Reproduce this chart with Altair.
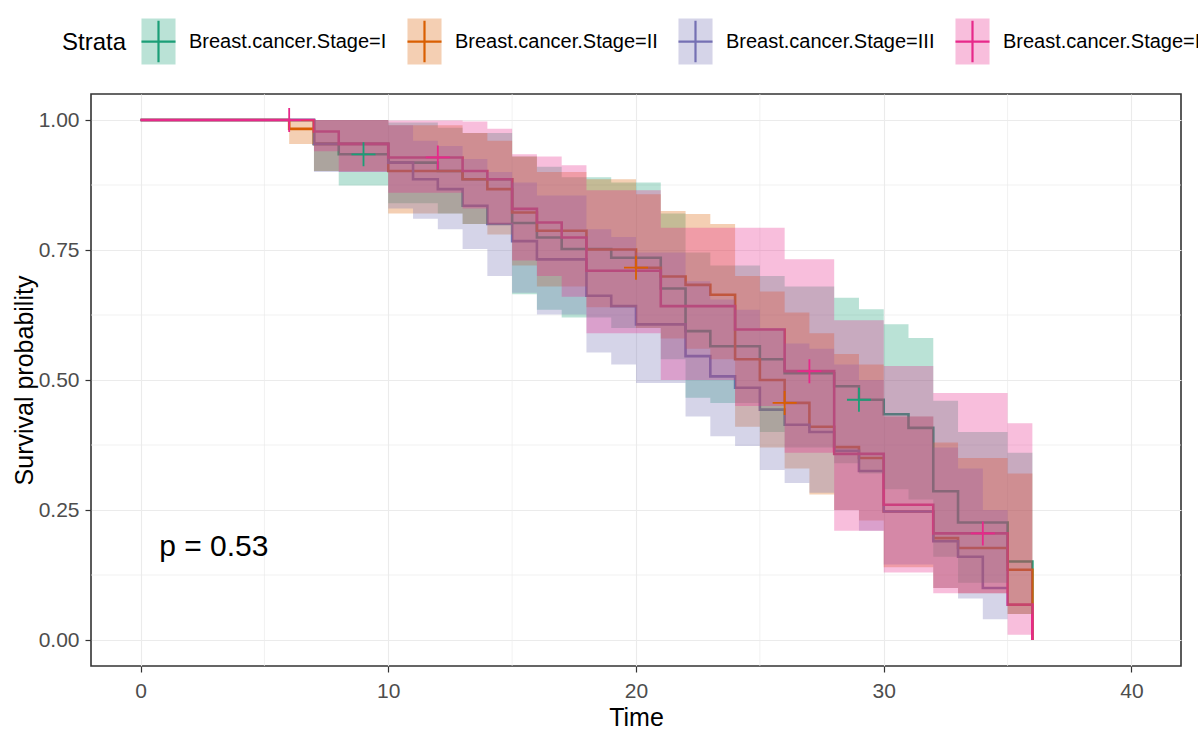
import altair as alt
import pandas as pd

FONT = "Liberation Sans"

strata_labels = ["Breast.cancer.Stage=I", "Breast.cancer.Stage=II",
                 "Breast.cancer.Stage=III", "Breast.cancer.Stage=IV"]
line_colors = ["#1B9E77", "#D95F02", "#7570B3", "#E7298A"]
key_fills = ["rgba(27,158,119,0.3)", "rgba(217,95,2,0.3)",
             "rgba(117,112,179,0.3)", "rgba(231,41,138,0.3)"]

# Stage I (teal)
time_I = [0, 7, 8, 10, 12, 13, 15, 16, 17, 19, 21, 22, 23, 25, 26, 28, 29, 30, 31, 32, 33, 35, 36]
surv_I = [1.0, .954, .934, .918, .902, .886, .802, .774, .752, .735, .676, .594, .565, .540, .513, .488, .462, .434, .408, .286, .226, .151, 0.0]
lower_I = [1.0, .902, .874, .840, .820, .800, .665, .635, .620, .600, .540, .466, .456, .400, .370, .340, .320, .290, .270, .160, .110, .050, 0.0]
upper_I = [1.0, 1.0, 1.0, .995, .985, .975, .930, .910, .890, .880, .820, .745, .720, .700, .680, .658, .636, .607, .581, .460, .400, .360, 0.0]

# Stage II (orange)
time_II = [0, 6, 7, 10, 13, 14, 15, 16, 18, 20, 21, 22, 23, 24, 25, 26, 27, 28, 29, 30, 32, 33, 35, 36]
surv_II = [1.0, .983, .954, .902, .886, .867, .822, .787, .751, .716, .699, .683, .664, .540, .500, .456, .410, .371, .350, .247, .196, .177, .135, 0.0]
lower_II = [1.0, .954, .902, .820, .800, .780, .720, .680, .640, .600, .580, .560, .540, .410, .370, .330, .280, .250, .230, .140, .100, .090, .050, 0.0]
upper_II = [1.0, 1.0, 1.0, .990, .975, .960, .930, .900, .886, .857, .825, .819, .800, .700, .670, .630, .590, .550, .530, .430, .380, .350, .320, 0.0]

# Stage III (purple)
time_III = [0, 7, 10, 11, 12, 13, 14, 15, 16, 18, 19, 20, 22, 23, 24, 25, 26, 27, 28, 29, 30, 32, 33, 34, 35]
surv_III = [1.0, .954, .918, .886, .867, .835, .800, .767, .732, .662, .642, .607, .546, .507, .485, .443, .414, .400, .364, .325, .247, .190, .160, .100, .100]
lower_III = [1.0, .900, .830, .810, .790, .752, .700, .668, .626, .553, .530, .494, .430, .392, .373, .327, .302, .283, .250, .210, .145, .100, .080, .040, .040]
upper_III = [1.0, 1.0, .990, .960, .950, .925, .900, .880, .855, .790, .775, .745, .690, .655, .635, .600, .570, .560, .530, .500, .430, .370, .330, .250, .250]

# Stage IV (magenta)
time_IV = [0, 7, 8, 10, 13, 14, 15, 16, 17, 18, 21, 24, 26, 28, 30, 32, 35, 36]
surv_IV = [1.0, .978, .954, .928, .902, .886, .829, .803, .774, .710, .642, .597, .517, .358, .260, .205, .068, 0.0]
lower_IV = [1.0, .940, .900, .860, .830, .800, .730, .700, .660, .590, .500, .450, .360, .210, .130, .090, .010, 0.0]
upper_IV = [1.0, 1.0, 1.0, .999, .997, .983, .934, .930, .913, .865, .793, .793, .732, .615, .527, .475, .417, 0.0]

# censoring marks
cens_strata = [strata_labels[0], strata_labels[0], strata_labels[1], strata_labels[1],
               strata_labels[3], strata_labels[3], strata_labels[3], strata_labels[3]]
cens_time = [9, 29, 20, 26, 6, 12, 27, 34]
cens_surv = [.934, .462, .716, .456, 1.0, .928, .517, .205]

major_x = [0, 10, 20, 30, 40]
minor_x = [5, 15, 25, 35]
major_y = [0.0, 0.25, 0.5, 0.75, 1.0]
minor_y = [0.125, 0.375, 0.625, 0.875]

pval_text = ["p = 0.53"]
pval_x = [0.75]
pval_y = [0.162]

curves = [
    (strata_labels[0], time_I, surv_I, lower_I, upper_I),
    (strata_labels[1], time_II, surv_II, lower_II, upper_II),
    (strata_labels[2], time_III, surv_III, lower_III, upper_III),
    (strata_labels[3], time_IV, surv_IV, lower_IV, upper_IV),
]
rows = []
for lab, ts, ss, ls, us in curves:
    for t, s, l, u in zip(ts, ss, ls, us):
        rows.append({"strata": lab, "time": t, "surv": s, "lower": l, "upper": u})
km = pd.DataFrame(rows)
cens_df = pd.DataFrame({"strata": cens_strata, "time": cens_time, "surv": cens_surv})
ptxt = pd.DataFrame({"x": pval_x, "y": pval_y, "label": pval_text})

xscale = alt.Scale(domain=[-2, 42], nice=False, zero=False)
yscale = alt.Scale(domain=[-0.05, 1.05], nice=False, zero=False)

x_axis = alt.Axis(values=major_x, title="Time", format="d", grid=True,
                  gridColor="#EBEBEB", gridWidth=1.1, domain=False,
                  ticks=True, tickColor="#333333", tickSize=6, tickWidth=1.2,
                  labelFont=FONT, labelFontSize=21, labelColor="#4D4D4D",
                  labelPadding=8, labelFlush=False,
                  titleFont=FONT, titleFontSize=25, titleFontWeight="normal",
                  titleColor="black", titlePadding=4)
y_axis = alt.Axis(values=major_y, title="Survival probability", format=".2f", grid=True,
                  gridColor="#EBEBEB", gridWidth=1.1, domain=False,
                  ticks=True, tickColor="#333333", tickSize=6, tickWidth=1.2,
                  labelFont=FONT, labelFontSize=21, labelColor="#4D4D4D",
                  labelPadding=6, labelFlush=False,
                  titleFont=FONT, titleFontSize=25, titleFontWeight="normal",
                  titleColor="black", titlePadding=1)

# legend key: translucent square (fill) with a "+" (stroke); the square outline
# is kept out of the stroke by a dash pattern that only covers the cross part.
key_fill_expr = ""
for lab, col in zip(strata_labels[:-1], key_fills[:-1]):
    key_fill_expr += "datum.value == '%s' ? '%s' : " % (lab, col)
key_fill_expr += "'%s'" % key_fills[-1]

key_path = ("M0.74,0H-0.74H0.74H0V-0.9V0.9V0H0.74H-0.74H0V1"
            "H0.74V-1H-0.74V1H0V0H0.74Z")

legend_stroke = alt.Legend(
    title="Strata", orient="none", legendX=-29, legendY=-77, direction="horizontal",
    titleOrient="left", titleAnchor="middle", titleBaseline="middle",
    titleFont=FONT, titleFontSize=24, titleFontWeight="normal", titleColor="black",
    titlePadding=7, labelFont=FONT, labelFontSize=20, labelColor="black",
    labelOffset=6, labelLimit=500, columnPadding=13, rowPadding=0,
    symbolSize=2116, padding=0,
    symbolType=key_path,
    symbolStrokeWidth=2.2,
    symbolDash=[183, 1000], symbolDashOffset=1166,
    symbolFillColor=alt.ExprRef(expr=key_fill_expr),
)

grid_x = alt.Chart(pd.DataFrame({"v": minor_x})).mark_rule(
    color="#EBEBEB", strokeWidth=0.7).encode(
    x=alt.X("v:Q", scale=xscale, axis=x_axis))
grid_y = alt.Chart(pd.DataFrame({"v": minor_y})).mark_rule(
    color="#EBEBEB", strokeWidth=0.7).encode(
    y=alt.Y("v:Q", scale=yscale, axis=y_axis))

lines = alt.Chart(km).mark_line(interpolate="step-after", strokeWidth=2.6).encode(
    x=alt.X("time:Q", scale=xscale, axis=x_axis),
    y=alt.Y("surv:Q", scale=yscale, axis=y_axis),
    stroke=alt.Stroke("strata:N", scale=alt.Scale(range=line_colors), legend=legend_stroke),
)

bands = alt.Chart(km).mark_area(interpolate="step-after", fillOpacity=0.3, strokeWidth=0).encode(
    x=alt.X("time:Q", scale=xscale, axis=x_axis),
    y=alt.Y("lower:Q", scale=yscale, axis=y_axis),
    y2="upper:Q",
    fill=alt.Fill("strata:N", scale=alt.Scale(range=line_colors), legend=None),
)

cens = alt.Chart(cens_df).mark_point(shape="M-1,0H1M0,-1V1", size=576, filled=False,
                                     strokeWidth=1.8, opacity=1).encode(
    x=alt.X("time:Q", scale=xscale, axis=x_axis),
    y=alt.Y("surv:Q", scale=yscale, axis=y_axis),
    stroke=alt.Stroke("strata:N", scale=alt.Scale(range=line_colors), legend=None),
)

ptext = alt.Chart(ptxt).mark_text(align="left", baseline="alphabetic", font=FONT,
                                  fontSize=30, color="black").encode(
    x=alt.X("x:Q", scale=xscale, axis=x_axis),
    y=alt.Y("y:Q", scale=yscale, axis=y_axis),
    text="label:N",
)

chart = alt.layer(grid_x, grid_y, lines, bands, cens, ptext).properties(
    width=1090, height=572,
    autosize=alt.AutoSizeParams(type="none"),
    padding={"left": 91, "top": 94, "right": 17, "bottom": 66},
    background="white",
).configure_view(stroke="#333333", strokeWidth=1.6)

chart.save("out.html", embed_options={"renderer": "svg", "actions": False})
